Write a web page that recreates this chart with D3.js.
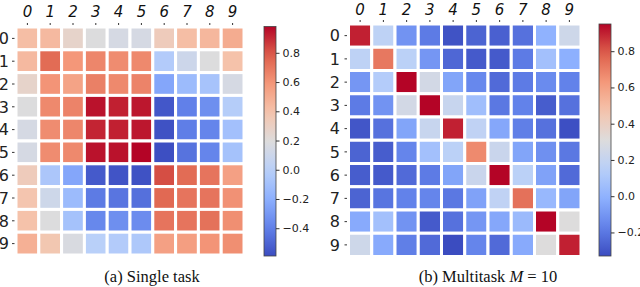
<!DOCTYPE html>
<meta charset="utf-8">
<script src="https://d3js.org/d3.v7.min.js"></script>
<style>
  body { margin: 0; background: #fff; }
  svg { display: block; }
</style>
<body>
<div id="chart"></div>
<script>

// digit classes (rows and columns)
const digits = ["0", "1", "2", "3", "4", "5", "6", "7", "8", "9"];

// (a) single task correlation matrix
const singleTask = [
  [0.42, 0.44, 0.27, 0.19, 0.15, 0.15, 0.33, 0.42, 0.45, 0.50],
  [0.44, 0.74, 0.59, 0.65, 0.63, 0.64, -0.03, 0.10, 0.19, 0.40],
  [0.27, 0.60, 0.54, 0.67, 0.64, 0.66, -0.24, -0.13, -0.08, 0.15],
  [0.19, 0.64, 0.66, 0.95, 0.92, 0.94, -0.55, -0.40, -0.34, -0.02],
  [0.15, 0.63, 0.65, 0.91, 0.92, 0.94, -0.57, -0.41, -0.38, -0.10],
  [0.15, 0.63, 0.64, 0.95, 0.95, 0.98, -0.58, -0.45, -0.38, -0.09],
  [0.33, -0.06, -0.24, -0.54, -0.56, -0.57, 0.82, 0.74, 0.71, 0.55],
  [0.38, 0.11, -0.13, -0.42, -0.44, -0.46, 0.75, 0.71, 0.71, 0.61],
  [0.40, 0.19, -0.09, -0.37, -0.34, -0.35, 0.71, 0.71, 0.72, 0.62],
  [0.48, 0.37, 0.17, 0.00, -0.03, -0.05, 0.55, 0.56, 0.60, 0.62]
];

// (b) multitask M = 10 correlation matrix
const multiTask = [
  [0.90, 0.17, -0.11, -0.19, -0.31, -0.26, -0.27, -0.22, 0.00, 0.24],
  [0.17, 0.72, 0.16, -0.10, -0.25, -0.29, -0.29, -0.19, 0.07, -0.01],
  [-0.10, 0.13, 0.95, 0.26, -0.05, -0.15, -0.24, -0.19, -0.14, -0.17],
  [-0.19, -0.11, 0.26, 0.95, 0.21, 0.06, -0.20, -0.17, -0.28, -0.22],
  [-0.30, -0.22, -0.05, 0.21, 0.90, 0.18, -0.04, -0.18, -0.22, -0.32],
  [-0.26, -0.28, -0.16, 0.07, 0.16, 0.67, 0.22, -0.05, -0.12, -0.20],
  [-0.28, -0.29, -0.24, -0.19, -0.05, 0.22, 0.95, 0.16, -0.06, -0.24],
  [-0.26, -0.21, -0.17, -0.16, -0.20, -0.06, 0.18, 0.74, 0.03, -0.05],
  [-0.03, 0.07, -0.11, -0.29, -0.22, -0.10, -0.04, 0.04, 0.95, 0.31],
  [0.24, -0.03, -0.18, -0.24, -0.33, -0.16, -0.24, -0.03, 0.31, 0.90]
];

// colour bar ranges and ticks
const singleRange = [-0.59, 0.98];
const singleTicks = [-0.4, -0.2, 0.0, 0.2, 0.4, 0.6, 0.8];
const multiRange = [-0.33, 0.95];
const multiTicks = [-0.2, 0.0, 0.2, 0.4, 0.6, 0.8];

// matplotlib "coolwarm" sampled at 9 stops
const coolwarm = ["#3b4cc0", "#6282ea", "#8db0fe", "#b9d0f9", "#dddcdc",
                  "#f5c4ac", "#f4987a", "#dd5f4b", "#b40426"];

const W = 640, H = 287;

const svg = d3.select("#chart")
  .append("svg")
    .attr("width", W)
    .attr("height", H);

function panel(opts) {
  const { data, range, ticks, x0, y0, size, cbX, cbY, cbH, id,
          topY, leftX, caption, capX } = opts;

  const t = d3.scaleLinear().domain([0, 1]).range(range);
  const color = d3.scaleLinear()
    .domain(d3.range(coolwarm.length).map(i => t(i / (coolwarm.length - 1))))
    .range(coolwarm)
    .interpolate(d3.interpolateRgb)
    .clamp(true);

  const x = d3.scaleBand().domain(digits).range([x0, x0 + size]);
  const y = d3.scaleBand().domain(digits).range([y0, y0 + size]);

  const cells = [];
  data.forEach((row, i) => row.forEach((v, j) => cells.push({ r: digits[i], c: digits[j], v })));

  const g = svg.append("g");

  // thin colour strip at the right edge (seaborn artefact)
  g.selectAll("rect.edge")
    .data(cells.filter(d => d.c === digits[digits.length - 1]))
    .join("rect")
      .attr("class", "edge")
      .attr("x", x0 + size - 1)
      .attr("y", d => y(d.r))
      .attr("width", 1.5)
      .attr("height", y.bandwidth())
      .attr("fill", d => color(d.v));

  g.selectAll("rect.cell")
    .data(cells)
    .join("rect")
      .attr("class", "cell")
      .attr("x", d => x(d.c))
      .attr("y", d => y(d.r))
      .attr("width", x.bandwidth())
      .attr("height", y.bandwidth())
      .attr("fill", d => color(d.v))
      .attr("stroke", "#fff")
      .attr("stroke-width", 3);

  // column labels (italic digits on top)
  g.selectAll("text.col")
    .data(digits)
    .join("text")
      .attr("class", "col")
      .attr("x", d => x(d) + x.bandwidth() / 2)
      .attr("y", topY)
      .attr("text-anchor", "middle")
      .attr("font-family", "DejaVu Sans")
      .attr("font-style", "italic")
      .attr("font-size", 15)
      .attr("fill", "#111")
      .text(d => d);
  g.selectAll("line.coltick")
    .data(digits)
    .join("line")
      .attr("x1", d => x(d) + x.bandwidth() / 2)
      .attr("x2", d => x(d) + x.bandwidth() / 2)
      .attr("y1", y0 - 4)
      .attr("y2", y0 - 2)
      .attr("stroke", "#333");

  // row labels
  g.selectAll("text.row")
    .data(digits)
    .join("text")
      .attr("class", "row")
      .attr("x", leftX)
      .attr("y", d => y(d) + y.bandwidth() / 2)
      .attr("dy", "0.36em")
      .attr("text-anchor", "end")
      .attr("font-family", "DejaVu Sans")
      .attr("font-size", 16)
      .attr("fill", "#222")
      .text(d => d);
  g.selectAll("line.rowtick")
    .data(digits)
    .join("line")
      .attr("x1", x0 - 4)
      .attr("x2", x0 - 1.5)
      .attr("y1", d => y(d) + y.bandwidth() / 2)
      .attr("y2", d => y(d) + y.bandwidth() / 2)
      .attr("stroke", "#333");

  // colour bar
  const grad = svg.append("defs").append("linearGradient")
    .attr("id", id)
    .attr("x1", 0).attr("y1", 1).attr("x2", 0).attr("y2", 0);
  grad.selectAll("stop")
    .data(d3.range(0, 1.0001, 0.05))
    .join("stop")
      .attr("offset", d => d)
      .attr("stop-color", d => color(t(d)));

  g.append("rect")
    .attr("x", cbX)
    .attr("y", cbY)
    .attr("width", 12)
    .attr("height", cbH)
    .attr("fill", `url(#${id})`)
    .attr("stroke", "#444")
    .attr("stroke-width", 0.8);

  const cb = d3.scaleLinear().domain(range).range([cbY + cbH, cbY]);
  const axis = g.append("g")
    .attr("transform", `translate(${cbX + 12},0)`)
    .call(d3.axisRight(cb).tickValues(ticks).tickSize(3.5).tickPadding(3)
      .tickFormat(d => d3.format(".1f")(d).replace("-", "\u2212")));
  axis.select(".domain").remove();
  axis.selectAll("line").attr("stroke", "#333");
  axis.selectAll("text")
    .attr("font-family", "DejaVu Sans")
    .attr("font-size", 11)
    .attr("fill", "#222");

  // caption
  const cap = g.append("text")
    .attr("x", capX)
    .attr("y", 282)
    .attr("text-anchor", "middle")
    .attr("font-family", "Liberation Serif")
    .attr("font-size", 16.5)
    .attr("fill", "#111");
  caption.forEach(part => {
    cap.append("tspan")
      .attr("font-style", part.italic ? "italic" : null)
      .text(part.text);
  });
}

panel({
  data: singleTask, range: singleRange, ticks: singleTicks,
  x0: 16, y0: 27, size: 228,
  cbX: 264, cbY: 26.5, cbH: 229.5, id: "cbA",
  topY: 17, leftX: 9,
  caption: [{ text: "(a)  Single task" }], capX: 152
});

panel({
  data: multiTask, range: multiRange, ticks: multiTicks,
  x0: 348.5, y0: 24, size: 232.5,
  cbX: 599, cbY: 24, cbH: 232, id: "cbB",
  topY: 15, leftX: 340,
  caption: [{ text: "(b)  Multitask " }, { text: "M", italic: true }, { text: " = 10" }],
  capX: 488
});

</script>
</body>
